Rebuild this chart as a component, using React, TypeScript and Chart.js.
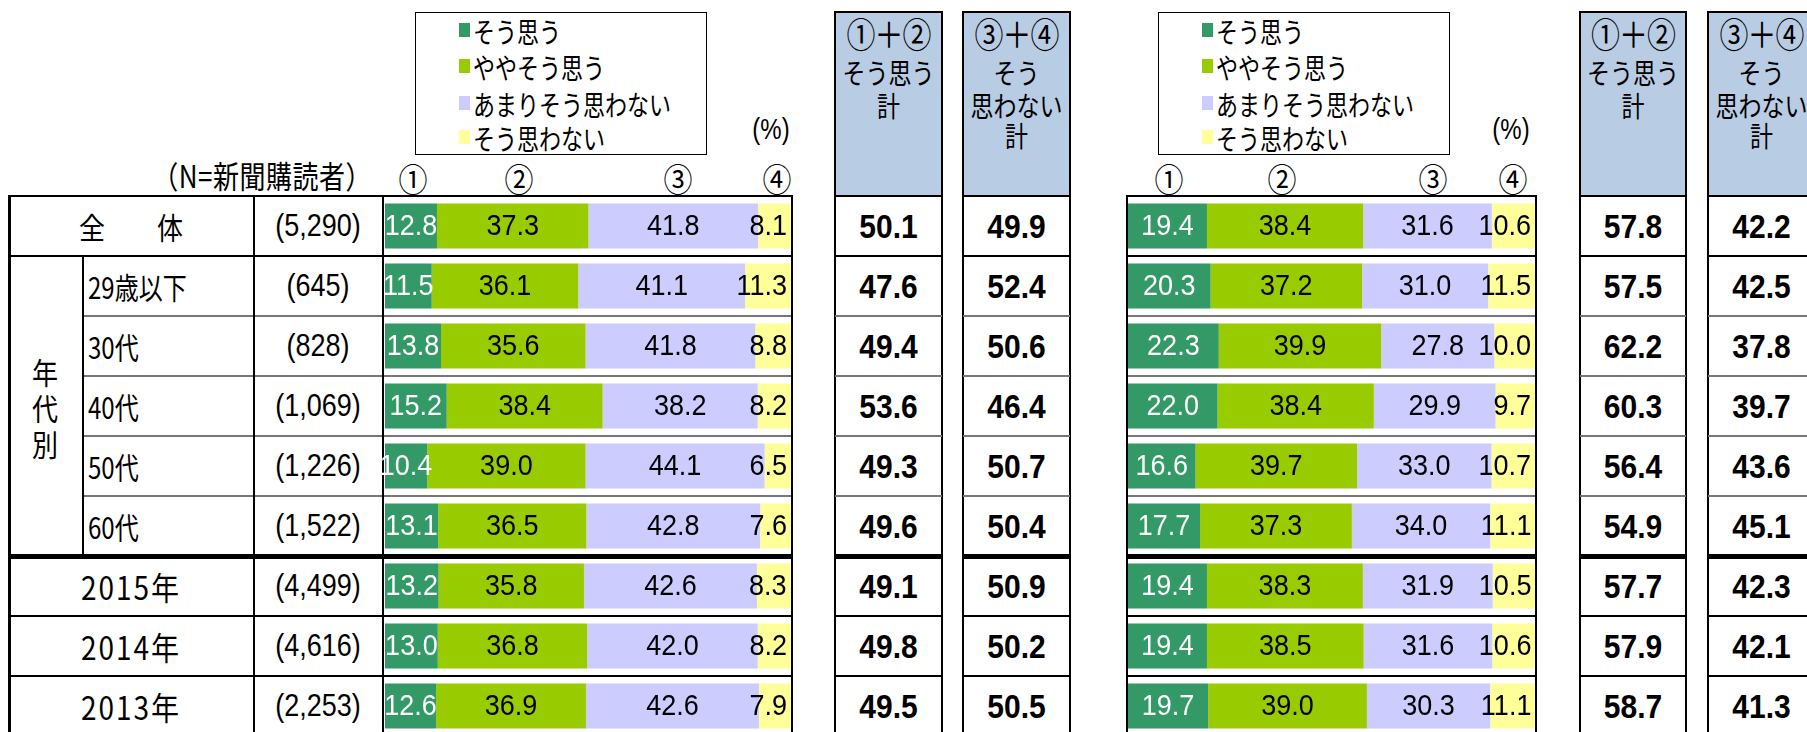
import React, { useEffect, useRef } from "react";
import { Chart, registerables } from "chart.js";

Chart.register(...registerables);

// ---------------- DATA ----------------
const rowLabels = ["全　　体", "29歳以下", "30代", "40代", "50代", "60代", "2015年", "2014年", "2013年"];
const sampleSizes = ["(5,290)", "(645)", "(828)", "(1,069)", "(1,226)", "(1,522)", "(4,499)", "(4,616)", "(2,253)"];
const seriesNames = ["そう思う", "ややそう思う", "あまりそう思わない", "そう思わない"];
const circledHeaders = ["①", "②", "③", "④"];

// left panel
const leftAgree = [12.8, 11.5, 13.8, 15.2, 10.4, 13.1, 13.2, 13.0, 12.6];
const leftSomewhatAgree = [37.3, 36.1, 35.6, 38.4, 39.0, 36.5, 35.8, 36.8, 36.9];
const leftSomewhatDisagree = [41.8, 41.1, 41.8, 38.2, 44.1, 42.8, 42.6, 42.0, 42.6];
const leftDisagree = [8.1, 11.3, 8.8, 8.2, 6.5, 7.6, 8.3, 8.2, 7.9];
const leftAgreeTotal = [50.1, 47.6, 49.4, 53.6, 49.3, 49.6, 49.1, 49.8, 49.5];
const leftDisagreeTotal = [49.9, 52.4, 50.6, 46.4, 50.7, 50.4, 50.9, 50.2, 50.5];

// right panel
const rightAgree = [19.4, 20.3, 22.3, 22.0, 16.6, 17.7, 19.4, 19.4, 19.7];
const rightSomewhatAgree = [38.4, 37.2, 39.9, 38.4, 39.7, 37.3, 38.3, 38.5, 39.0];
const rightSomewhatDisagree = [31.6, 31.0, 27.8, 29.9, 33.0, 34.0, 31.9, 31.6, 30.3];
const rightDisagree = [10.6, 11.5, 10.0, 9.7, 10.7, 11.1, 10.5, 10.6, 11.1];
const rightAgreeTotal = [57.8, 57.5, 62.2, 60.3, 56.4, 54.9, 57.7, 57.9, 58.7];
const rightDisagreeTotal = [42.2, 42.5, 37.8, 39.7, 43.6, 45.1, 42.3, 42.1, 41.3];

// ---------------- STYLE ----------------
const COLORS = ["#339966", "#99CC00", "#CCCCFF", "#FFFF99"];
const HEADER_BLUE = "#B8CCE4";
const JP = "'Noto Sans CJK JP', 'Noto Sans', sans-serif";
const NUM = "'Liberation Sans', Arial, sans-serif";

const TOP = 196;
const ROW_H = 60;
const rowY = (i: number) => TOP + ROW_H * i;

const labelPlugin = {
  id: "segLabels",
  afterDatasetsDraw(chart: any) {
    const ctx = chart.ctx;
    ctx.save();
    ctx.font = `27px ${NUM}`;
    ctx.textBaseline = "middle";
    chart.data.datasets.forEach((ds: any, di: number) => {
      const meta = chart.getDatasetMeta(di);
      meta.data.forEach((bar: any, i: number) => {
        const v = ds.data[i] as number;
        const p = bar.getProps(["x", "base", "y"], true);
        const txt = v.toFixed(1);
        ctx.fillStyle = di === 0 ? "#ffffff" : "#000000";
        const tx = di === 3 ? p.x - 4 : (p.x + p.base) / 2;
        ctx.textAlign = di === 3 ? "right" : "center";
        ctx.save();
        ctx.translate(tx, p.y + 1);
        ctx.scale(1, 1.08);
        ctx.fillText(txt, 0, 0);
        ctx.restore();
      });
    });
    ctx.restore();
  },
};

function BarPanel(props: { series: number[][]; left: number; width: number }) {
  const ref = useRef<HTMLCanvasElement>(null);
  const padL = 5;
  const padR = 4;
  const cw = props.width + padL + padR;
  const ch = ROW_H * rowLabels.length;
  useEffect(() => {
    const chart = new Chart(ref.current as HTMLCanvasElement, {
      type: "bar",
      data: {
        labels: rowLabels,
        datasets: props.series.map((d, i) => ({
          label: seriesNames[i],
          data: d,
          backgroundColor: COLORS[i],
          borderWidth: 0,
          barPercentage: 0.75,
          categoryPercentage: 1,
        })),
      },
      options: {
        indexAxis: "y",
        responsive: false,
        maintainAspectRatio: false,
        animation: false,
        devicePixelRatio: 1,
        layout: { padding: { left: padL, right: padR, top: 0, bottom: 0 } },
        scales: {
          x: { stacked: true, min: 0, max: 100, display: false },
          y: { stacked: true, display: false },
        },
        plugins: { legend: { display: false }, tooltip: { enabled: false } },
      } as any,
      plugins: [labelPlugin],
    });
    return () => chart.destroy();
  }, []);
  return (
    <canvas
      ref={ref}
      width={cw}
      height={ch}
      style={{ position: "absolute", left: props.left - padL, top: TOP, width: cw, height: ch }}
    />
  );
}

function HL(p: { x1: number; x2: number; y: number; t?: number; c?: string }) {
  const t = p.t ?? 2;
  return (
    <div style={{ position: "absolute", left: p.x1, top: p.y - t / 2, width: p.x2 - p.x1, height: t, background: p.c ?? "#000" }} />
  );
}
function VL(p: { x: number; y1: number; y2: number; t?: number; c?: string }) {
  const t = p.t ?? 2;
  return (
    <div style={{ position: "absolute", left: p.x - t / 2, top: p.y1, width: t, height: p.y2 - p.y1, background: p.c ?? "#000" }} />
  );
}
function T(p: {
  x: number; y: number; text: string; size: number; align?: "c" | "l" | "r";
  font?: string; weight?: number; color?: string; ls?: number; sy?: number;
}) {
  const tx = p.align === "l" ? "0" : p.align === "r" ? "-100%" : "-50%";
  return (
    <div
      style={{
        position: "absolute", left: p.x, top: p.y,
        transform: `translate(${tx}, -50%) scaleY(${p.sy ?? 1})`,
        transformOrigin: "50% 50%",
        fontSize: p.size, fontFamily: p.font ?? JP, fontWeight: p.weight ?? 400,
        color: p.color ?? "#000", whiteSpace: "nowrap", lineHeight: 1, letterSpacing: p.ls ?? 0,
      }}
    >
      {p.text}
    </div>
  );
}

// horizontal grid lines spanning [x1,x2]
function RowLines(p: { x1: number; x2: number; ageX1?: number }) {
  const out: any[] = [];
  out.push(<HL key="t" x1={p.x1} x2={p.x2} y={rowY(0)} />);
  out.push(<HL key="r1" x1={p.x1} x2={p.x2} y={rowY(1)} />);
  for (let i = 2; i <= 5; i++)
    out.push(<HL key={"a" + i} x1={p.ageX1 ?? p.x1} x2={p.x2} y={rowY(i)} t={1.5} c="#777" />);
  out.push(<HL key="thick" x1={p.x1} x2={p.x2} y={rowY(6)} t={5} />);
  out.push(<HL key="r7" x1={p.x1} x2={p.x2} y={rowY(7)} />);
  out.push(<HL key="r8" x1={p.x1} x2={p.x2} y={rowY(8)} />);
  return <>{out}</>;
}

function Legend(p: { left: number }) {
  const ys = [30, 66, 103, 137];
  return (
    <>
      <div style={{ position: "absolute", left: p.left, top: 12, width: 292, height: 143, border: "1.5px solid #000", boxSizing: "border-box", background: "#fff" }} />
      {seriesNames.map((n, i) => (
        <React.Fragment key={n}>
          <div style={{ position: "absolute", left: p.left + 44, top: ys[i] - 7, width: 11, height: 14, background: COLORS[i] }} />
          <T x={p.left + 58} y={ys[i]} text={n} size={22} align="l" sy={1.28} />
        </React.Fragment>
      ))}
    </>
  );
}

function SummaryCol(p: { x1: number; x2: number; lines: string[]; values: number[] }) {
  const cx = (p.x1 + p.x2) / 2;
  const lineYs = [33, 72, 105, 135];
  return (
    <>
      <div style={{ position: "absolute", left: p.x1, top: 12, width: p.x2 - p.x1, height: TOP - 12, background: HEADER_BLUE }} />
      {p.lines.map((l, i) => (
        <T key={i} x={cx} y={lineYs[i]} text={l} size={i === 0 ? 29 : 23} ls={i === 0 ? -1 : 0} sy={1.22} />
      ))}
      <HL x1={p.x1 - 1} x2={p.x2 + 1} y={12} />
      <VL x={p.x1} y1={12} y2={740} />
      <VL x={p.x2} y1={12} y2={740} />
      <RowLines x1={p.x1} x2={p.x2} />
      {p.values.map((v, i) => (
        <T key={"v" + i} x={cx} y={rowY(i) + ROW_H / 2 + 1} text={v.toFixed(1)} size={30} font={NUM} weight={700} sy={1.12} />
      ))}
    </>
  );
}

export default function App() {
  useEffect(() => {
    document.documentElement.style.overflow = "hidden";
    document.body.style.overflow = "hidden";
  }, []);

  const leftSeries = [leftAgree, leftSomewhatAgree, leftSomewhatDisagree, leftDisagree];
  const rightSeries = [rightAgree, rightSomewhatAgree, rightSomewhatDisagree, rightDisagree];
  const leftCircleX = [413, 519, 678, 777];
  const rightCircleX = [1169, 1282, 1433, 1513];

  return (
    <div style={{ position: "absolute", left: 0, top: 0, width: 1807, height: 732, overflow: "hidden", background: "#fff" }}>
      {/* legends */}
      <Legend left={415} />
      <Legend left={1158} />
      <T x={771} y={129} text="(%)" size={24} font={NUM} sy={1.2} />
      <T x={1511} y={129} text="(%)" size={24} font={NUM} sy={1.2} />
      <T x={372} y={175} text="（N=新聞購読者）" size={26} align="r" ls={0.5} sy={1.2} />
      {circledHeaders.map((c, i) => (
        <T key={"lc" + i} x={leftCircleX[i]} y={178} text={c} size={29} sy={1.12} />
      ))}
      {circledHeaders.map((c, i) => (
        <T key={"rc" + i} x={rightCircleX[i]} y={178} text={c} size={29} sy={1.12} />
      ))}

      {/* left table lines */}
      <RowLines x1={9} x2={793} ageX1={83} />
      <VL x={9} y1={195} y2={740} t={3} />
      <VL x={83} y1={256} y2={556} />
      <VL x={254} y1={195} y2={740} />
      <VL x={383} y1={195} y2={740} />
      <VL x={792} y1={195} y2={740} />

      {/* right bar box lines */}
      <RowLines x1={1127} x2={1537} />
      <VL x={1127} y1={195} y2={740} />
      <VL x={1536} y1={195} y2={740} />

      {/* row labels */}
      {rowLabels.map((l, i) => {
        const y = rowY(i) + ROW_H / 2;
        if (i === 0) return <T key={l} x={131} y={y} text={l} size={26} sy={1.15} />;
        if (i <= 5) return <T key={l} x={88} y={y} text={l} size={24} align="l" sy={1.25} />;
        return <T key={l} x={131} y={y} text={l} size={28} ls={2} sy={1.15} />;
      })}
      {["年", "代", "別"].map((c, i) => (
        <T key={c} x={45} y={371 + 36 * i} text={c} size={26} sy={1.15} />
      ))}
      {sampleSizes.map((s, i) => (
        <T key={s} x={318} y={rowY(i) + ROW_H / 2} text={s} size={27} font={NUM} sy={1.18} />
      ))}

      {/* bars */}
      <BarPanel series={leftSeries} left={385} width={406} />
      <BarPanel series={rightSeries} left={1128} width={407} />

      {/* summary columns */}
      <SummaryCol x1={835} x2={942} lines={["①＋②", "そう思う", "計"]} values={leftAgreeTotal} />
      <SummaryCol x1={963} x2={1070} lines={["③＋④", "そう", "思わない", "計"]} values={leftDisagreeTotal} />
      <SummaryCol x1={1580} x2={1686} lines={["①＋②", "そう思う", "計"]} values={rightAgreeTotal} />
      <SummaryCol x1={1708} x2={1815} lines={["③＋④", "そう", "思わない", "計"]} values={rightDisagreeTotal} />
    </div>
  );
}
